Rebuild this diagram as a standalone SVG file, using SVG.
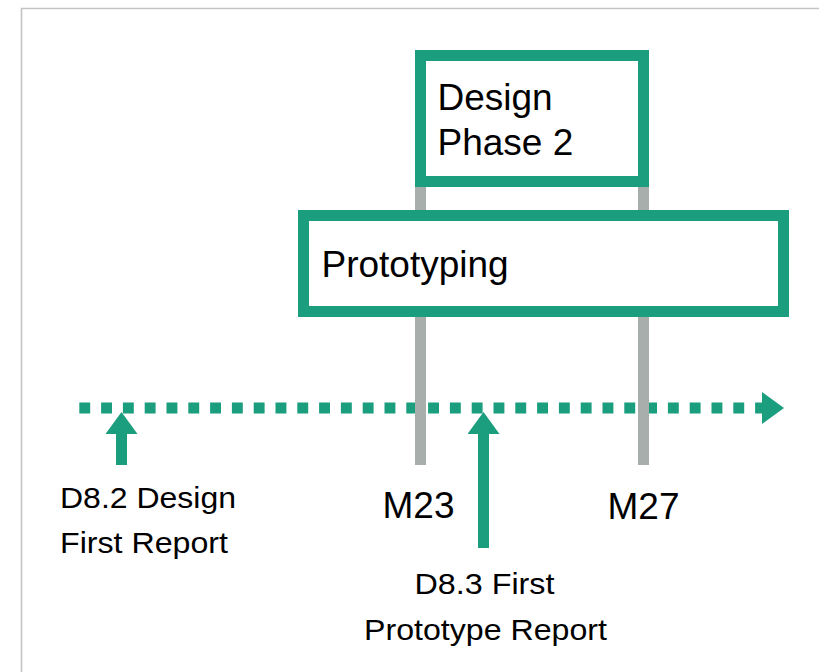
<svg xmlns="http://www.w3.org/2000/svg" width="819" height="672" viewBox="0 0 819 672">
<style>
.box{fill:#ffffff;stroke:#1a9e7e;stroke-width:11}
.big{font-family:"Liberation Sans",Arial,sans-serif;font-size:37px;fill:#000}
.small{font-family:"Liberation Sans",Arial,sans-serif;font-size:30px;fill:#000}
.grey{stroke:#a7aeac;stroke-width:11;fill:none}
.green{stroke:#1a9e7e;stroke-width:11;fill:none}
</style>
<defs>
<marker id="head" viewBox="0 0 22 32" refX="0" refY="16" markerWidth="22" markerHeight="32" markerUnits="userSpaceOnUse" orient="auto">
<path d="M0,0 L22,16 L0,32 Z" fill="#1a9e7e"/>
</marker>
</defs>
<rect width="819" height="672" fill="#ffffff"/>
<path d="M21.5,672 V8.5 H819" fill="none" stroke="#c4c4c4" stroke-width="1.6"/>
<g id="connectors">
<path id="timeline" d="M79.3,408 H762" class="green" stroke-width="10.9" stroke-dasharray="10.9 10.9" marker-end="url(#head)"/>
<path id="m23-line" d="M420.5,187 V465" class="grey"/>
<path id="m27-line" d="M643.5,187 V465" class="grey"/>
<path id="d82-arrow" d="M121.5,465 V434" class="green" marker-end="url(#head)"/>
<path id="d83-arrow" d="M483.5,548 V434" class="green" marker-end="url(#head)"/>
</g>
<g id="design-phase-2">
<rect class="box" x="420.5" y="55.5" width="223" height="126"/>
<text class="big" x="437.5" y="110">Design</text>
<text class="big" x="437.5" y="155">Phase 2</text>
</g>
<g id="prototyping">
<rect class="box" x="303.5" y="215.5" width="480" height="96"/>
<text class="big" x="321.5" y="277">Prototyping</text>
</g>
<g id="m23">
<text class="big" x="382.5" y="518">M23</text>
</g>
<g id="m27">
<text class="big" x="607.5" y="519">M27</text>
</g>
<g id="d82">
<text class="small" x="60" y="508" textLength="176" lengthAdjust="spacingAndGlyphs">D8.2 Design</text>
<text class="small" x="60" y="553" textLength="168" lengthAdjust="spacingAndGlyphs">First Report</text>
</g>
<g id="d83">
<text class="small" x="414.5" y="594" textLength="140" lengthAdjust="spacingAndGlyphs">D8.3 First</text>
<text class="small" x="364" y="640" textLength="243" lengthAdjust="spacingAndGlyphs">Prototype Report</text>
</g>
</svg>
